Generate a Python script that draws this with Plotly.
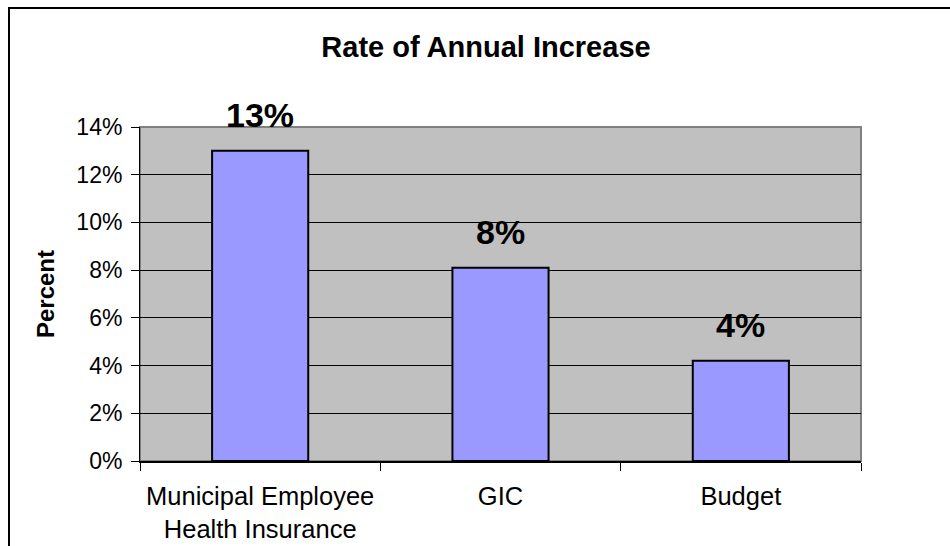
import plotly.graph_objects as go

# Chart data
categories = ["Municipal Employee<br>Health Insurance", "GIC", "Budget"]
annual_increase = [0.130, 0.081, 0.042]
y_ticks = [0, 0.02, 0.04, 0.06, 0.08, 0.10, 0.12, 0.14]

W, H = 950, 546
ML, MR, MT, MB = 140, 89, 127, 85
PW, PH = W - ML - MR, H - MT - MB

FONT = "Liberation Sans, Arial, sans-serif"

fig = go.Figure()
fig.add_trace(go.Bar(
    x=categories,
    y=annual_increase,
    marker=dict(color="#9999FF", line=dict(color="#000000", width=2)),
    width=0.4,
    hoverinfo="skip",
))

# Value labels above each bar
for c, v in zip(categories, annual_increase):
    fig.add_annotation(
        x=c, y=v, text=f"<b>{v:.0%}</b>", showarrow=False,
        yanchor="bottom", yshift=15,
        font=dict(family=FONT, size=34, color="#000000"),
    )

def px_x(p):
    return (p - ML) / PW

def px_y(p):
    return (H - MB - p) / PH

# Outer chart frame
fig.add_shape(type="rect", xref="paper", yref="paper",
              x0=px_x(9), x1=px_x(W + 20), y0=px_y(8), y1=px_y(H + 20),
              line=dict(color="#000000", width=2), fillcolor="rgba(0,0,0,0)",
              layer="above")
# Plot area border (top and right in gray)
fig.add_shape(type="rect", xref="paper", yref="paper",
              x0=0, x1=1, y0=0, y1=1,
              line=dict(color="#808080", width=2), fillcolor="rgba(0,0,0,0)",
              layer="below")

fig.update_layout(
    width=W, height=H,
    margin=dict(l=ML, r=MR, t=MT, b=MB, autoexpand=False),
    paper_bgcolor="#FFFFFF",
    plot_bgcolor="#C0C0C0",
    showlegend=False,
    title=dict(
        text="<b>Rate of Annual Increase</b>",
        x=486 / W, xanchor="center",
        y=1 - 47 / H, yanchor="middle",
        font=dict(family=FONT, size=29, color="#000000"),
    ),
    font=dict(family=FONT, color="#000000"),
)

fig.update_xaxes(
    type="category",
    automargin=False,
    tickson="boundaries",
    ticks="outside", ticklen=8, tickwidth=1, tickcolor="#000000",
    ticklabelstandoff=11,
    showline=True, linecolor="#000000", linewidth=2,
    tickfont=dict(family=FONT, size=25.5, color="#000000"),
    showgrid=False,
)

fig.update_yaxes(
    range=[0, 0.14],
    automargin=False,
    tickvals=y_ticks,
    tickformat=".0%",
    ticks="outside", ticklen=8, tickwidth=1, tickcolor="#000000",
    ticklabelstandoff=4,
    showline=True, linecolor="#000000", linewidth=1,
    showgrid=True, gridcolor="#000000", gridwidth=1,
    zeroline=False,
    tickfont=dict(family=FONT, size=23, color="#000000"),
    title=dict(text="<b>Percent</b>", standoff=14,
               font=dict(family=FONT, size=24, color="#000000")),
)

fig.write_html("out.html")
